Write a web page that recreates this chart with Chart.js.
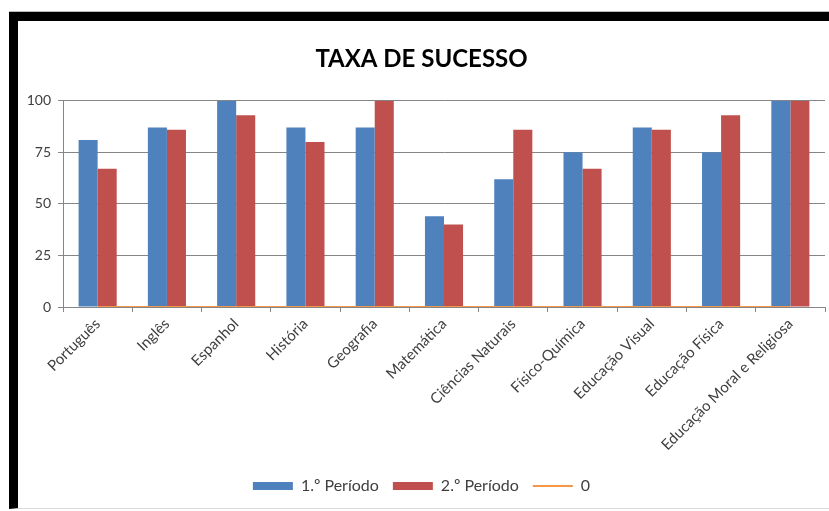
<!DOCTYPE html>
<html>
<head>
<meta charset="utf-8">
<script src="https://cdn.jsdelivr.net/npm/chart.js@4/dist/chart.umd.min.js"></script>
<style>
  body { margin: 0; background: #fff; width: 829px; height: 511px; overflow: hidden; }
  #frame {
    position: absolute; left: 9px; top: 12px; width: 811px; height: 487px;
    border-left: 9px solid #000; border-top: 9px solid #000;
    border-bottom: 1px solid #d9d9d9; box-shadow: 0 -1px 0 #bbb;
  }
  #chartBox { position: absolute; left: 0; top: 0; width: 811px; height: 487px; }
</style>
</head>
<body>
<div id="frame">
  <div id="chartBox"><canvas id="sucessoChart"></canvas></div>
</div>
<script>
var disciplinas = ['Português', 'Inglês', 'Espanhol', 'História', 'Geografia', 'Matemática',
  'Ciências Naturais', 'Físico-Química', 'Educação Visual', 'Educação Física', 'Educação Moral e Religiosa'];
var periodo1 = [81, 87, 100, 87, 87, 44, 62, 75, 87, 75, 100];
var periodo2 = [67, 86, 93, 80, 100, 40, 86, 67, 86, 93, 100];
var linhaZero = [0, 0, 0, 0, 0, 0, 0, 0, 0, 0, 0];
var yTicks = [0, 25, 50, 75, 100];

document.addEventListener('DOMContentLoaded', function() {
  var ctx = document.getElementById('sucessoChart').getContext('2d');
  var sucessoChart = new Chart(ctx, {
    data: {
      labels: disciplinas,
      datasets: [{
        type: 'bar',
        label: '1.º Período',
        data: periodo1,
        backgroundColor: '#4F81BD',
        categoryPercentage: 0.55,
        barPercentage: 1,
        order: 2
      }, {
        type: 'bar',
        label: '2.º Período',
        data: periodo2,
        backgroundColor: '#C0504D',
        categoryPercentage: 0.55,
        barPercentage: 1,
        order: 2
      }, {
        type: 'line',
        label: '0',
        data: linhaZero,
        borderColor: '#F79646',
        backgroundColor: '#F79646',
        borderWidth: 2,
        pointRadius: 0,
        order: 1
      }]
    },
    options: {
      responsive: true,
      maintainAspectRatio: false,
      animation: false,
      layout: { padding: { left: 0, right: 4, top: 0, bottom: 4 } },
      plugins: {
        tooltip: { enabled: false },
        title: {
          display: true,
          text: 'TAXA DE SUCESSO',
          color: '#000',
          font: { family: 'Lato', size: 24, weight: 'bold' },
          padding: { top: 24, bottom: 27 }
        },
        legend: {
          position: 'bottom',
          labels: {
            usePointStyle: true,
            pointStyleWidth: 40,
            boxHeight: 8,
            color: '#404040',
            font: { family: 'Lato', size: 16 },
            padding: 14,
            generateLabels: function(chart) {
              return chart.data.datasets.map(function(ds, i) {
                var isLine = ds.type === 'line';
                return {
                  text: ds.label,
                  fillStyle: ds.backgroundColor,
                  strokeStyle: isLine ? ds.borderColor : ds.backgroundColor,
                  lineWidth: isLine ? 2 : 0,
                  pointStyle: isLine ? 'line' : 'rect',
                  fontColor: '#404040',
                  datasetIndex: i,
                  hidden: false
                };
              });
            }
          }
        }
      },
      scales: {
        x: {
          offset: true,
          afterFit: function(scale) { scale.height = 157; },
          grid: { display: true, drawOnChartArea: false, offset: true, tickLength: 5, color: '#868686' },
          border: { color: '#868686' },
          ticks: {
            minRotation: 45, maxRotation: 45, autoSkip: false,
            color: '#404040',
            font: { family: 'Lato', size: 15 }
          }
        },
        y: {
          min: 0, max: 100,
          afterBuildTicks: function(scale) {
            scale.ticks = yTicks.map(function(v) { return { value: v }; });
          },
          afterFit: function(scale) { scale.width = 45; },
          grid: { color: '#868686', tickLength: 5 },
          border: { color: '#868686' },
          ticks: {
            color: '#404040',
            padding: 7,
            font: { family: 'Lato', size: 14 }
          }
        }
      }
    }
  });
});
</script>
</body>
</html>
